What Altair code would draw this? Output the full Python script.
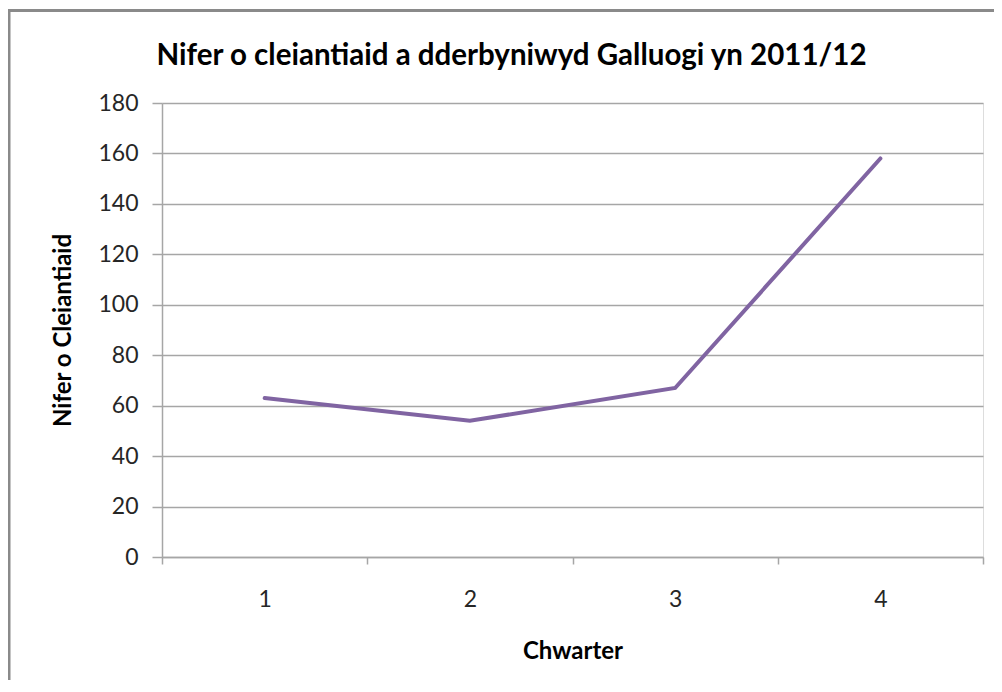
import altair as alt
import pandas as pd

quarters = ["1", "2", "3", "4"]
clients = [63, 54, 67, 158]
y_ticks = [0, 20, 40, 60, 80, 100, 120, 140, 160, 180]

title_text = "Nifer o cleiantiaid a dderbyniwyd Galluogi yn 2011/12"
x_title = "Chwarter"
y_title = "Nifer o Cleiantiaid"

df = pd.DataFrame({"Chwarter": quarters, "Cleiantiaid": clients})

W, H = 821, 454
FONT = "Lato"
GREY = "#a6a6a6"
TEXT = "#262626"

line = alt.Chart(df).mark_line(color="#8064A2", strokeWidth=4, strokeCap="round").encode(
    x=alt.X(
        "Chwarter:O",
        bandPosition=0.5,
        scale=alt.Scale(type="band", paddingInner=0, paddingOuter=0),
        axis=alt.Axis(
            title=x_title, labelAngle=0, tickBand="extent", tickSize=7,
            labelPadding=24, titlePadding=28, grid=False,
            domainColor=GREY, tickColor=GREY, domainWidth=1.5, tickWidth=1.5,
            labelFont=FONT, labelFontSize=23, labelColor=TEXT,
            titleFont=FONT, titleFontSize=24, titleFontWeight="bold", titleColor="#000000",
        ),
    ),
    y=alt.Y(
        "Cleiantiaid:Q",
        scale=alt.Scale(domain=[0, 180], nice=False, zero=True),
        axis=alt.Axis(
            title=y_title, values=y_ticks, tickSize=10, labelPadding=14, titlePadding=22,
            gridColor=GREY, gridWidth=1.5, domainColor=GREY, tickColor=GREY,
            domainWidth=1.5, tickWidth=1.5,
            labelFont=FONT, labelFontSize=23, labelColor=TEXT,
            titleFont=FONT, titleFontSize=24, titleFontWeight="bold", titleColor="#000000",
        ),
    ),
)

frame_df = pd.DataFrame({"k": [0]})
top_edge = alt.Chart(frame_df).mark_rule(color="#8a8a8a", strokeWidth=3).encode(
    x=alt.value(-154), x2=alt.value(W + 20), y=alt.value(-92.5)
)
left_edge = alt.Chart(frame_df).mark_rule(color="#8a8a8a", strokeWidth=3).encode(
    x=alt.value(-153), y=alt.value(-94), y2=alt.value(H + 200)
)

chart = alt.layer(line, top_edge, left_edge).properties(
    width=W,
    height=H,
    padding={"left": 154, "top": 95, "right": 11, "bottom": 123},
    autosize=alt.AutoSizeParams(type="none"),
    title=alt.TitleParams(
        text=title_text, font=FONT, fontSize=29.5, fontWeight="bold", color="#000000",
        anchor="middle", dx=-61, offset=-64,
    ),
).configure_view(stroke=None).configure(background="white")

chart.save("out.html", embed_options={"renderer": "svg", "actions": False})
